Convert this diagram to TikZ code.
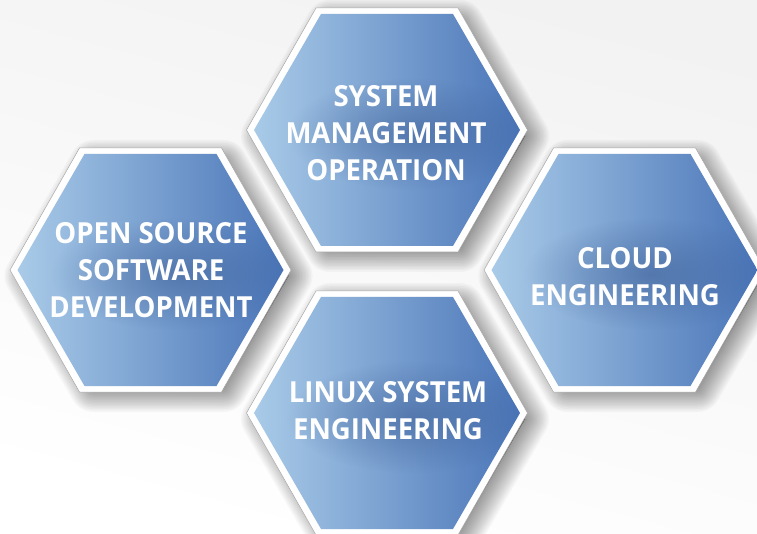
\documentclass[tikz,border=0pt]{standalone}
\usepackage{fontspec}
\setmainfont[FakeStretch=0.95]{Open Sans}
\usetikzlibrary{fadings}
\tikzfading[name=softglow, inner color=transparent!0, middle color=transparent!45, outer color=transparent!100]
\definecolor{hexlight}{HTML}{A9CBE8}
\definecolor{hexmid}{HTML}{7A9CCD}
\definecolor{hexdark}{HTML}{4A75B8}
\definecolor{hexedge}{HTML}{A8A8A8}
\definecolor{glowcol}{HTML}{3D5F96}
\tikzset{
  x=1pt,y=-1pt,
  hexlabel/.style={text=white,align=center,font=\fontsize{29}{37}\selectfont\bfseries,inner sep=0pt},
  hexshade/.style={left color=hexlight,middle color=hexmid,right color=hexdark},
}
\newcommand{\hexoutline}[5]{% cx cy half-width half-top half-height
  ({#1-#3},#2) -- ({#1-#4},{#2-#5}) -- ({#1+#4},{#2-#5}) -- ({#1+#3},#2) -- ({#1+#4},{#2+#5}) -- ({#1-#4},{#2+#5}) -- cycle}
\newcommand{\hexshadow}[2]{%
  \foreach \w in {48,45,...,0}{
    \draw[black,draw opacity=0.027,fill=black,fill opacity=0.027,line join=round,line width=\w pt]
      \hexoutline{#1+8}{#2+6}{130}{65}{112};
  }}
\newcommand{\hexbody}[2]{%
  \fill[white,draw=hexedge,line width=0.5pt,line join=miter] \hexoutline{#1}{#2}{140.5}{71}{122};
  \shade[hexshade] \hexoutline{#1}{#2}{133}{66}{116};
  \begin{scope}
    \clip \hexoutline{#1}{#2}{133}{66}{116};
    \fill[glowcol,opacity=0.55,path fading=softglow,fit fading=true]
      ({#1+25},{#2+4}) ellipse [x radius=125,y radius=56];
  \end{scope}}
\begin{document}
\begin{tikzpicture}
\useasboundingbox (0,0) rectangle (757,534);
\shade[top color=black!5,bottom color=white,shading angle=-15] (0,0) rectangle (757,534);
\hexshadow{387}{130}
\hexshadow{150.5}{270}
\hexshadow{624.5}{270}
\hexshadow{387}{413}
\hexbody{387}{130}
\hexbody{150.5}{270}
\hexbody{624.5}{270}
\hexbody{387}{413}
\node[hexlabel] (sysmgmt) at (386,133) {SYSTEM\\MANAGEMENT\\OPERATION};
\node[hexlabel] (oss) at (151,270) {OPEN SOURCE\\SOFTWARE\\DEVELOPMENT};
\node[hexlabel] (cloud) at (625,277) {CLOUD\\ENGINEERING};
\node[hexlabel] (linux) at (388,411) {LINUX SYSTEM\\ENGINEERING};
\end{tikzpicture}
\end{document}
